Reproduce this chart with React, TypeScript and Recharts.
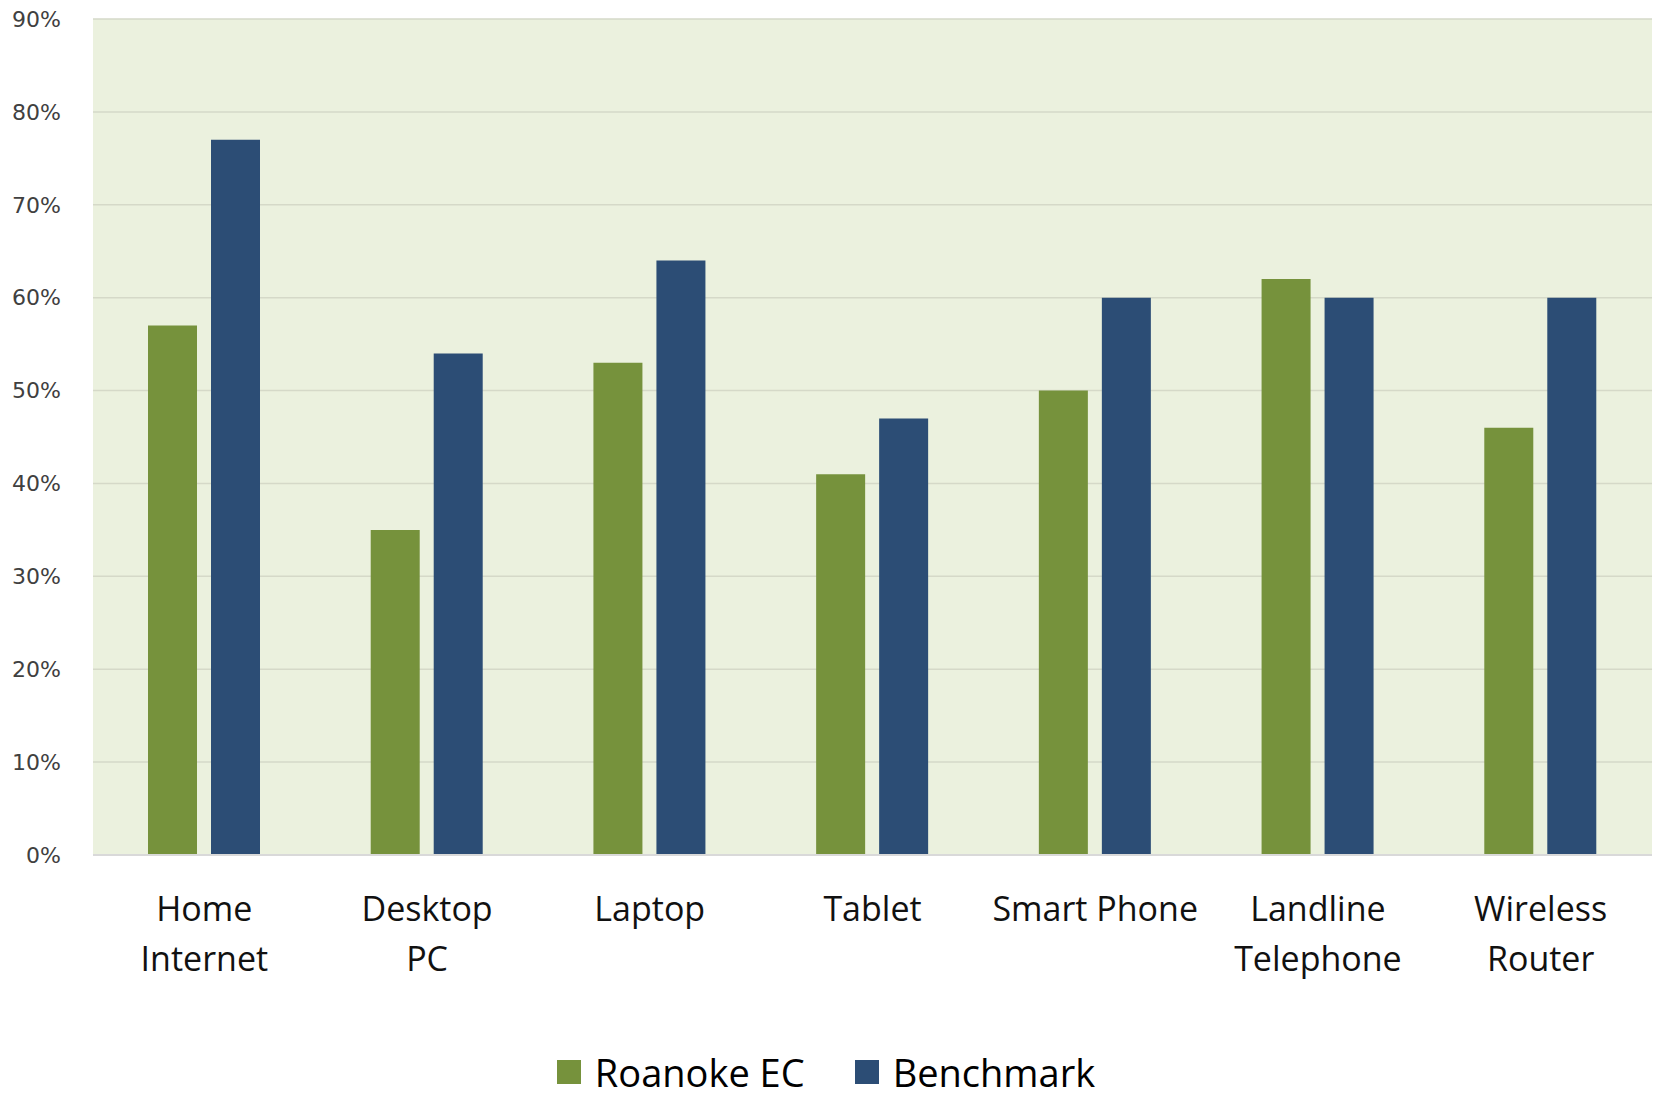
import React from 'react';
import { Bar, BarChart, CartesianGrid, Legend, XAxis, YAxis } from 'recharts';

const categories = ['Home Internet', 'Desktop PC', 'Laptop', 'Tablet', 'Smart Phone', 'Landline Telephone', 'Wireless Router'];
const roanokeEC = [57, 35, 53, 41, 50, 62, 46];
const benchmark = [77, 54, 64, 47, 60, 60, 60];
const yTicks = [0, 10, 20, 30, 40, 50, 60, 70, 80, 90];
const seriesOrder = ['Roanoke EC', 'Benchmark'];

// x labels break onto two lines like the original
const labelLines: Record<string, string[]> = {
  'Home Internet': ['Home', 'Internet'],
  'Desktop PC': ['Desktop', 'PC'],
  'Landline Telephone': ['Landline', 'Telephone'],
  'Wireless Router': ['Wireless', 'Router'],
};

const GREEN = '#76923C';
const BLUE = '#2C4D75';

const data = categories.map((name, i) => ({
  name,
  roanoke: roanokeEC[i],
  benchmark: benchmark[i],
}));

const CategoryTick = (props: any) => {
  const { x, y, payload } = props;
  const lines = labelLines[payload.value] || [payload.value];
  return (
    <text x={x} y={y} textAnchor="middle" fill="#111" fontSize={34} fontFamily="'Open Sans', sans-serif">
      {lines.map((line, i) => (
        <tspan key={i} x={x} dy={i === 0 ? 64 : 50}>{line}</tspan>
      ))}
    </text>
  );
};

const renderLegend = (props: any) => {
  const items = [...(props.payload || [])].sort(
    (a: any, b: any) => seriesOrder.indexOf(a.value) - seriesOrder.indexOf(b.value)
  );
  return (
    <div style={{ display: 'flex', justifyContent: 'center', alignItems: 'center', height: 52, fontFamily: "'Open Sans', sans-serif", fontSize: 38, color: '#000' }}>
      {items.map((item: any, i: number) => (
        <div key={i} style={{ display: 'flex', alignItems: 'center', marginLeft: i === 0 ? 0 : 50 }}>
          <span style={{ width: 24, height: 24, background: item.color, display: 'inline-block', marginRight: 14 }} />
          <span style={{ lineHeight: '52px' }}>{item.value}</span>
        </div>
      ))}
    </div>
  );
};

export default function App() {
  return (
    <div style={{ position: 'absolute', left: 0, top: 0, width: 1656, height: 1098, background: '#fff' }}>
      <BarChart
        width={1656}
        height={1098}
        data={data}
        margin={{ top: 19, right: 4, left: 0, bottom: 0 }}
        barSize={49}
        barGap={14}
      >
        <CartesianGrid vertical={false} fill="#EBF1DE" stroke="#D5D9C8" strokeWidth={1.5} />
        <XAxis
          dataKey="name"
          height={191}
          tickLine={false}
          tickSize={0}
          axisLine={{ stroke: '#D9D9D9', strokeWidth: 2 }}
          tick={<CategoryTick />}
          interval={0}
        />
        <YAxis
          width={93}
          domain={[0, 90]}
          ticks={yTicks}
          interval={0}
          axisLine={false}
          tickLine={false}
          tickSize={0}
          tickMargin={32}
          tickFormatter={(v: number) => `${v}%`}
          tick={{ fill: '#404040', fontSize: 22, fontFamily: "'DejaVu Sans', sans-serif" }}
        />
        <Legend verticalAlign="bottom" height={52} content={renderLegend} />
        <Bar dataKey="roanoke" name="Roanoke EC" fill={GREEN} isAnimationActive={false} />
        <Bar dataKey="benchmark" name="Benchmark" fill={BLUE} isAnimationActive={false} />
      </BarChart>
    </div>
  );
}
